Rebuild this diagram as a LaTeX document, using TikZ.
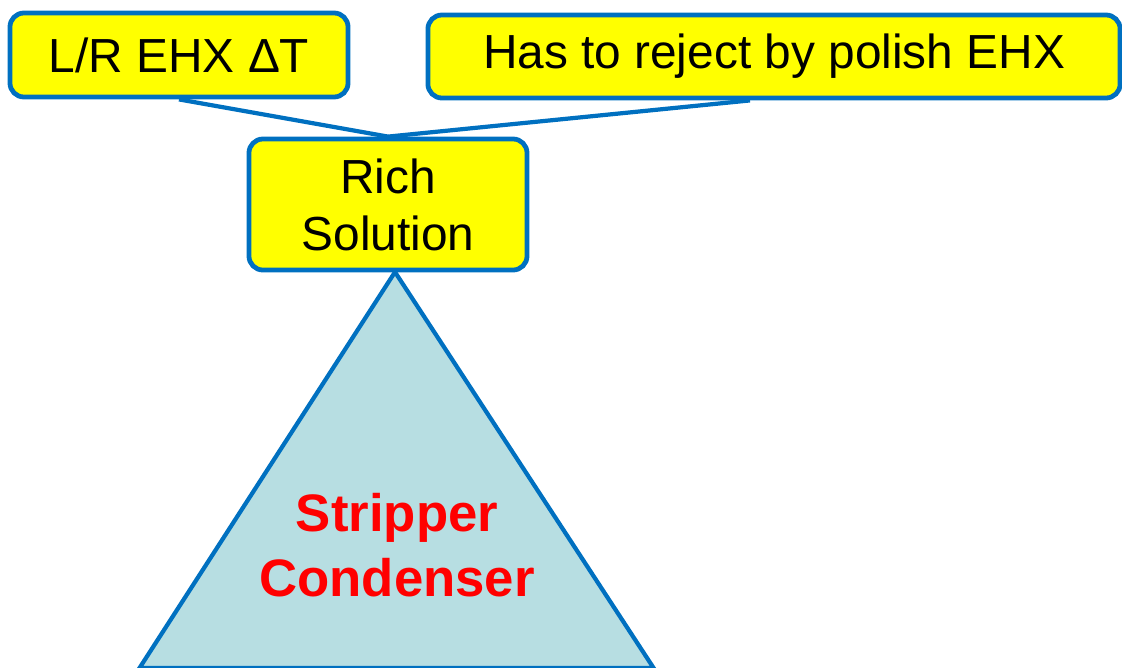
\documentclass[tikz,border=0pt]{standalone}
\usepackage{fontspec}
\setmainfont{Liberation Sans}
\usepackage{tikz}
\usetikzlibrary{positioning, calc}
\definecolor{edgeblue}{RGB}{0,112,192}
\definecolor{noteyellow}{RGB}{255,255,0}
\definecolor{towercyan}{RGB}{183,222,226}

\begin{document}
\begin{tikzpicture}[x=0.025cm, y=-0.025cm,
    note/.style={rectangle, rounded corners=0.35cm, draw=edgeblue, fill=noteyellow,
                 line width=3.4pt, align=center, inner sep=0pt,
                 font=\fontsize{34}{40.4}\selectfont},
    link/.style={draw=edgeblue, line width=3pt},
    tower/.style={draw=edgeblue, fill=towercyan, line width=3pt, line join=miter},
    towerlbl/.style={text=red, align=center, font=\fontsize{37.5}{46}\selectfont\bfseries}]

\useasboundingbox (0,0) rectangle (1122,667);
\clip (0,0) rectangle (1122,667);

%% Stripper condenser (triangle, cut off at the bottom)
\draw[tower] (395,272) -- (653.6,668) -- (139.5,668) -- cycle;
\node[towerlbl] (strip) at (397,545) {Stripper\\Condenser};

%% Notes
\node[note, minimum width=8.45cm, minimum height=2.1cm]   (lr)   at (179,55)    {L/R EHX ΔT};
\node[note, minimum width=17.3cm, minimum height=2.075cm] (rej)  at (774,56.5)  {Has to reject by polish EHX};
\node[note, minimum width=6.95cm, minimum height=3.275cm] (rich) at (388,204.5) {Rich\\Solution};

%% Callout lines
\draw[link] (lr.south) -- (rich.north);
\draw[link] ($(rej.south)+(-24,0)$) -- (rich.north);

\end{tikzpicture}
\end{document}
